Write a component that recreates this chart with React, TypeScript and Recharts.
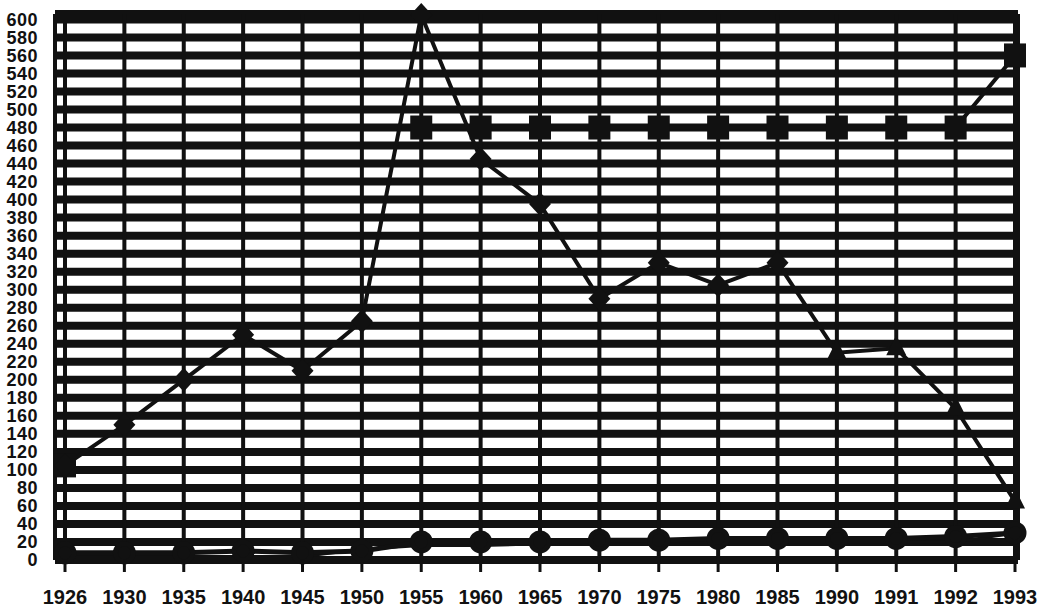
import { LineChart, Line, XAxis, YAxis, CartesianGrid } from "recharts";

const years = ["1926", "1930", "1935", "1940", "1945", "1950", "1955", "1960", "1965", "1970", "1975", "1980", "1985", "1990", "1991", "1992", "1993"];
const mainValues = [105, 150, 200, 250, 210, 265, 605, 445, 395, 290, 330, 305, 330, 230, 235, 168, 65];
const squareValues = [105, null, null, null, null, null, 480, 480, 480, 480, 480, 480, 480, 480, 480, 480, 560];
const circleValues = [8, 8, 8, 10, 8, 10, 20, 20, 20, 22, 22, 24, 24, 24, 24, 26, 30];
const lowValues = [4, 4, 4, 4, 4, 12, 16, 16, 18, 20, 20, 20, 20, 20, 20, 20, 30];
const yTicks = Array.from({ length: 31 }, (_, i) => i * 20);

const data = years.map((year, i) => ({
  year,
  main: mainValues[i],
  square: squareValues[i],
  circle: circleValues[i],
  low: lowValues[i],
}));

const ink = "#111";

function MainDot(props: any) {
  const { cx, cy, index } = props;
  if (cx == null || cy == null) return <g key={`m${index}`} />;
  if (index >= 13) {
    return <path key={`m${index}`} d={`M${cx},${cy - 13} L${cx + 10},${cy + 7} L${cx - 10},${cy + 7} Z`} fill={ink} />;
  }
  return <path key={`m${index}`} d={`M${cx},${cy - 12} L${cx + 11},${cy} L${cx},${cy + 12} L${cx - 11},${cy} Z`} fill={ink} />;
}

function SquareDot(props: any) {
  const { cx, cy, index } = props;
  if (cx == null || cy == null) return <g key={`s${index}`} />;
  return <rect key={`s${index}`} x={cx - 11} y={cy - 12} width={22} height={24} fill={ink} />;
}

export default function App() {
  return (
    <div style={{ position: "absolute", left: 0, top: 0, background: "#fff" }}>
      <LineChart width={1039} height={610} data={data} margin={{ top: 14, right: 21, left: 0, bottom: 0 }}>
        <CartesianGrid horizontal vertical={false} stroke={ink} strokeWidth={8} />
        <CartesianGrid horizontal={false} vertical stroke={ink} strokeWidth={4} />
        <XAxis
          dataKey="year"
          interval={0}
          padding={{ left: 10, right: 3 }}
          axisLine={false}
          tickLine={{ stroke: ink, strokeWidth: 3 }}
          tickSize={12}
          tickMargin={18}
          height={50}
          tick={{ fill: ink, fontSize: 20, fontWeight: 700, fontFamily: "Liberation Sans" }}
        />
        <YAxis
          domain={[0, 606]}
          ticks={yTicks}
          interval={0}
          axisLine={false}
          tickLine={false}
          tickMargin={11}
          width={55}
          tick={{ fill: ink, fontSize: 18, fontWeight: 700, fontFamily: "Liberation Sans", letterSpacing: 0.5 }}
        />
        <Line dataKey="low" stroke={ink} strokeWidth={3} dot={false} isAnimationActive={false} />
        <Line dataKey="circle" stroke={ink} strokeWidth={5} dot={{ r: 9, fill: ink, stroke: ink }} isAnimationActive={false} />
        <Line dataKey="square" stroke={ink} strokeWidth={4} dot={SquareDot} isAnimationActive={false} />
        <Line dataKey="main" stroke={ink} strokeWidth={4} dot={MainDot} isAnimationActive={false} />
      </LineChart>
    </div>
  );
}
